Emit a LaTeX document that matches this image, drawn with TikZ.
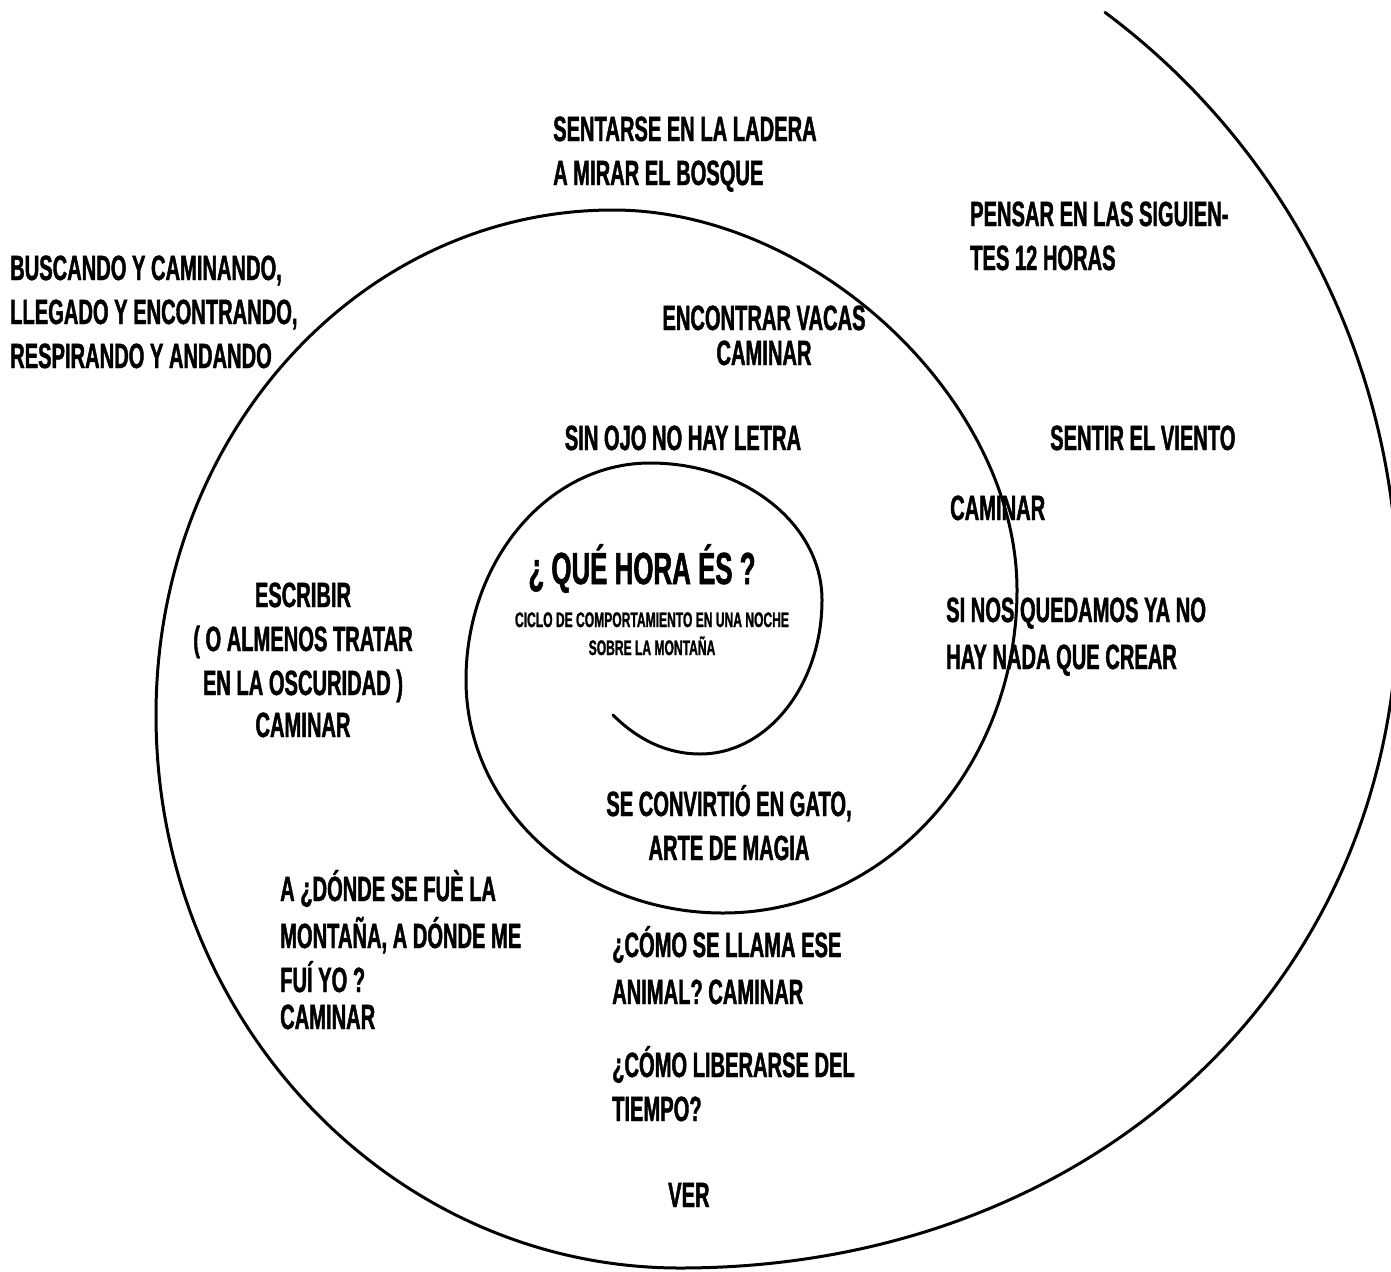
\documentclass[tikz,border=0pt]{standalone}
\usepackage{fontspec}
\newfontfamily\condensada{Liberation Sans}[FakeStretch=0.575, FakeBold=1.2]

\begin{document}
\begin{tikzpicture}[x=1pt, y=-1pt,
  espiral/.style={line width=3pt, line cap=round, line join=round},
  lbl/.style={inner sep=0pt, font={\condensada\bfseries\fontsize{35}{44}\selectfont}},
  izq/.style={lbl, align=left, anchor=base west},
  cen/.style={lbl, align=center, anchor=base}]
  \useasboundingbox (0,0) rectangle (1391,1271);

  % la espiral, cuartos de elipse desde el centro hacia afuera
  \begin{scope}
    \clip (0,0) rectangle (1391,1271);
    \draw[espiral] (613,715) .. controls (640,742) and (670,754) .. (700,754)
      .. controls (767.4,754) and (822,685.1) .. (822,600)
      .. controls (822,524.3) and (745,463) .. (650,463)
      .. controls (548.4,463) and (466,560.2) .. (466,680)
      .. controls (466,808.7) and (581.1,913) .. (723,913)
      .. controls (885.4,913) and (1017,768.4) .. (1017,590)
      .. controls (1017,400) and (815,210) .. (613,210)
      .. controls (362,210) and (156,432) .. (156,715)
      .. controls (156,1020.4) and (390.6,1268) .. (680,1268)
      .. controls (1092.9,1268) and (1398,984.1) .. (1398,600)
      .. controls (1398,367.9) and (1289.4,149.8) .. (1105,12.4);
  \end{scope}

  % textos (anclados en la linea base de su ultima linea)
  \node (titulo) [cen, font={\condensada\bfseries\fontsize{45}{50}\selectfont}]
    at (642,584) {¿ QUÉ HORA ÉS ?};
  \node (ciclo) [cen, font={\condensada\bfseries\fontsize{21}{28}\selectfont}]
    at (652,655) {CICLO DE COMPORTAMIENTO EN UNA NOCHE\\SOBRE LA MONTAÑA};
  \node (ladera) [izq] at (553,185) {SENTARSE EN LA LADERA\\A MIRAR EL BOSQUE};
  \node (pensar) [izq] at (970,270) {PENSAR EN LAS SIGUIEN-\\TES 12 HORAS};
  \node (buscando) [izq] at (10,368)
    {BUSCANDO Y CAMINANDO,\\LLEGADO Y ENCONTRANDO,\\RESPIRANDO Y ANDANDO};
  \node (vacas) [cen] at (764,365) {ENCONTRAR VACAS\\[-9pt]CAMINAR};
  \node (ojo) [cen] at (683,450) {SIN OJO NO HAY LETRA};
  \node (viento) [izq] at (1050,450) {SENTIR EL VIENTO};
  \node (caminar) [izq] at (950,520) {CAMINAR};
  \node (escribir) [cen] at (303,737)
    {ESCRIBIR\\( O ALMENOS TRATAR\\EN LA OSCURIDAD )\\[-2pt]CAMINAR};
  \node (quedamos) [izq] at (946,669) {SI NOS QUEDAMOS YA NO\\[3pt]HAY NADA QUE CREAR};
  \node (gato) [cen] at (729,860) {SE CONVIRTIÓ EN GATO,\\ARTE DE MAGIA};
  \node (donde) [izq] at (280,1029)
    {A ¿DÓNDE SE FUÈ LA\\[3pt]MONTAÑA, A DÓNDE ME\\FUÍ YO ?\\[-7pt]CAMINAR};
  \node (animal) [izq] at (612,1004) {¿CÓMO SE LLAMA ESE\\[3pt]ANIMAL? CAMINAR};
  \node (liberarse) [izq] at (612,1121) {¿CÓMO LIBERARSE DEL\\TIEMPO?};
  \node (ver) [izq] at (668,1207) {VER};
\end{tikzpicture}
\end{document}
